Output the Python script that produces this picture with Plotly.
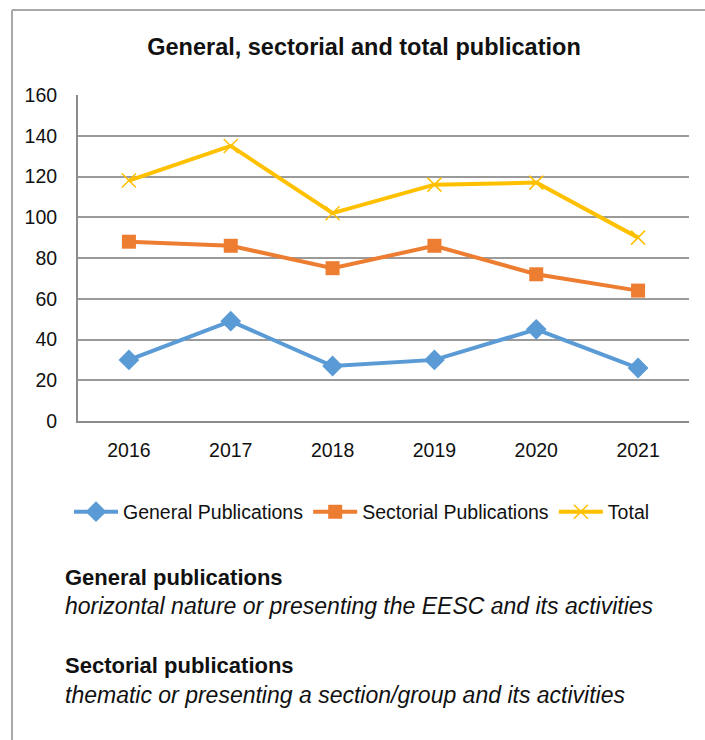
import plotly.graph_objects as go

years = ["2016", "2017", "2018", "2019", "2020", "2021"]
general = [30, 49, 27, 30, 45, 26]
sectorial = [88, 86, 75, 86, 72, 64]
total = [118, 135, 102, 116, 117, 90]

series_names = ["General Publications", "Sectorial Publications", "Total"]
y_ticks = [0, 20, 40, 60, 80, 100, 120, 140, 160]

FONT = "Liberation Sans, Arial, sans-serif"
W, H = 705, 740
ML, MR, MT, MB = 78, 16, 95, 319
PW, PH = W - ML - MR, H - MT - MB


def px_x(px):
    return (px - ML) / PW


def px_y(py):
    return (H - MB - py) / PH


fig = go.Figure()
fig.add_trace(go.Scatter(
    x=years, y=general, name=series_names[0], mode="lines+markers",
    line=dict(color="#5B9BD5", width=4),
    marker=dict(symbol="diamond", size=16, color="#5B9BD5"),
))
fig.add_trace(go.Scatter(
    x=years, y=sectorial, name=series_names[1], mode="lines+markers",
    line=dict(color="#ED7D31", width=4),
    marker=dict(symbol="square", size=14, color="#ED7D31"),
))
fig.add_trace(go.Scatter(
    x=years, y=total, name=series_names[2], mode="lines+markers",
    line=dict(color="#FFC000", width=4),
    marker=dict(symbol="x-thin", size=14, color="#FFC000",
                line=dict(color="#FFC000", width=1.5)),
))

fig.update_layout(
    width=W, height=H,
    margin=dict(l=ML, r=MR, t=MT, b=MB),
    paper_bgcolor="white", plot_bgcolor="white",
    font=dict(family=FONT, size=19.5, color="#111111"),
    title=dict(text="<b>General, sectorial and total publication</b>",
               x=px_x(364), xref="paper", xanchor="center",
               y=1 - 47 / H, yanchor="middle",
               font=dict(family=FONT, size=23.5, color="#111111")),
    showlegend=True,
    legend=dict(orientation="h", x=px_x(362), xanchor="center",
                y=px_y(512), yanchor="middle",
                font=dict(family=FONT, size=19.5, color="#111111"),
                itemwidth=44, tracegroupgap=0),
    xaxis=dict(type="category", range=[-0.5, 5.5], showgrid=False,
               showline=True, linecolor="#8c8c8c", linewidth=2,
               ticks="", ticklabelstandoff=11, zeroline=False),
    yaxis=dict(range=[0, 160], tickvals=y_ticks, showgrid=True,
               gridcolor="#9a9a9a", gridwidth=2,
               showline=True, linecolor="#8c8c8c", linewidth=2,
               ticks="", ticklabelstandoff=15, zeroline=False),
)

# outer frame (top and left edges)
fig.add_shape(type="line", xref="paper", yref="paper",
              x0=px_x(12), x1=px_x(W + 5), y0=px_y(10), y1=px_y(10),
              line=dict(color="#a8a8a8", width=2))
fig.add_shape(type="line", xref="paper", yref="paper",
              x0=px_x(12), x1=px_x(12), y0=px_y(10), y1=px_y(H + 5),
              line=dict(color="#a8a8a8", width=2))

notes = [
    ("<b>General publications</b>", 577, 22),
    ("<i>horizontal nature or presenting the EESC and its activities</i>", 606, 23),
    ("<b>Sectorial publications</b>", 665, 22),
    ("<i>thematic or presenting a section/group and its activities</i>", 695, 23),
]
for text, py, size in notes:
    fig.add_annotation(text=text, xref="paper", yref="paper",
                       x=px_x(63), y=px_y(py), xanchor="left", yanchor="middle",
                       showarrow=False,
                       font=dict(family=FONT, size=size, color="#111111"))

fig.write_html("out.html")
